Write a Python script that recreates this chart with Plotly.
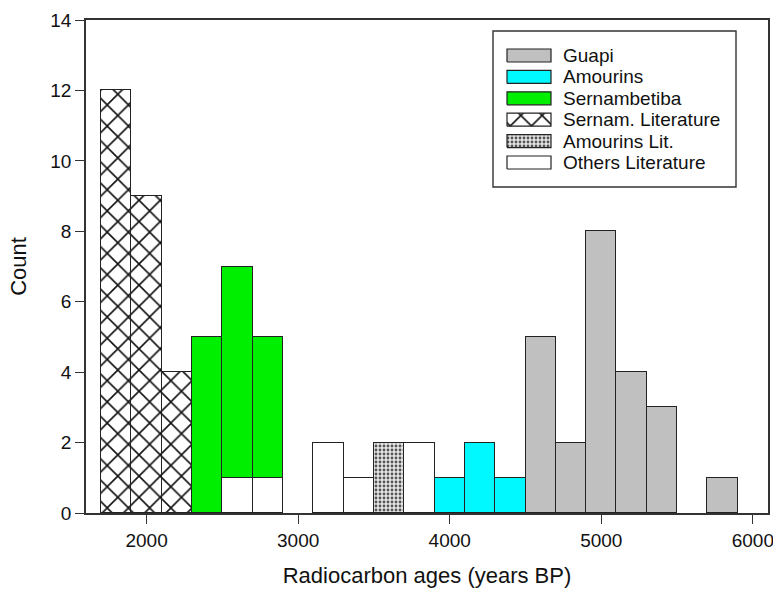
import plotly.graph_objects as go

# ---- data (bin centres in years BP, bin width 200) ----
bin_width = 200
sernam_lit_x = [1800, 2000, 2200]
sernam_lit_n = [12, 9, 4]
others_x = [2600, 2800, 3200, 3400, 3800]
others_n = [1, 1, 2, 1, 2]
sernambetiba_x = [2400, 2600, 2800]
sernambetiba_n = [5, 6, 4]
amourins_lit_x = [3600]
amourins_lit_n = [2]
amourins_x = [4000, 4200, 4400]
amourins_n = [1, 2, 1]
guapi_x = [4600, 4800, 5000, 5200, 5400, 5800]
guapi_n = [5, 2, 8, 4, 3, 1]

x_ticks = [2000, 3000, 4000, 5000, 6000]
y_ticks = [0, 2, 4, 6, 8, 10, 12, 14]

FONT = "Liberation Sans, Arial, sans-serif"
LINE = dict(color="#222", width=1.5)

styles = {
    "Guapi": dict(color="#c0c0c0"),
    "Amourins": dict(color="#00f8ff"),
    "Sernambetiba": dict(color="#00ee00"),
    "Sernam. Literature": dict(color="white",
                               pattern=dict(shape="x", size=15, solidity=0.2,
                                            fgcolor="#111", bgcolor="white", fillmode="replace")),
    "Amourins Lit.": dict(color="white",
                          pattern=dict(shape=".", size=4, solidity=0.4,
                                       fgcolor="#555", bgcolor="#e6e6e6", fillmode="replace")),
    "Others Literature": dict(color="white"),
}

series = [
    ("Others Literature", others_x, others_n),
    ("Sernam. Literature", sernam_lit_x, sernam_lit_n),
    ("Sernambetiba", sernambetiba_x, sernambetiba_n),
    ("Amourins Lit.", amourins_lit_x, amourins_lit_n),
    ("Amourins", amourins_x, amourins_n),
    ("Guapi", guapi_x, guapi_n),
]

fig = go.Figure()
for name, xs, ns in series:
    fig.add_trace(go.Bar(
        x=xs, y=ns, width=[bin_width] * len(xs), name=name,
        marker=dict(line=LINE, **styles[name]),
        showlegend=False,
    ))

# ---- custom legend (plot-area fractions) ----
L, R, T, B = 86, 768, 20, 513
def fx(px):
    return (px - L) / (R - L)
def fy(py):
    return (B - py) / (B - T)

legend_order = ["Guapi", "Amourins", "Sernambetiba", "Sernam. Literature",
                "Amourins Lit.", "Others Literature"]
fig.add_shape(type="rect", xref="paper", yref="paper",
              x0=fx(493), x1=fx(736), y0=fy(187), y1=fy(31),
              line=dict(color="#333", width=1.4), fillcolor="white", layer="below")
for i, name in enumerate(legend_order):
    cy = 55.5 + i * 21.4
    x0, x1 = fx(507), fx(551)
    y0, y1 = fy(cy + 6.5), fy(cy - 6.5)
    st = styles[name]
    kw = dict(fillcolor=st["color"])
    if "pattern" in st:
        kw = dict(fillpattern=st["pattern"], fillcolor="white")
    fig.add_trace(go.Scatter(
        x=[x0, x1, x1, x0, x0], y=[y0, y0, y1, y1, y0],
        xaxis="x2", yaxis="y2", mode="lines", fill="toself",
        line=dict(color="#222", width=1.2), showlegend=False, hoverinfo="skip", **kw))
    fig.add_annotation(x=fx(561), y=fy(cy), xref="paper", yref="paper",
                       text=name, showarrow=False, xanchor="left", yanchor="middle",
                       font=dict(size=19, color="#111", family=FONT))

fig.update_layout(
    width=773, height=593,
    margin=dict(l=L, r=773 - R, t=T, b=593 - B),
    paper_bgcolor="white", plot_bgcolor="white",
    barmode="stack", bargap=0,
    font=dict(family=FONT, color="#111"),
    xaxis=dict(range=[1600, 6100], tickvals=x_ticks, ticks="outside", ticklen=9,
               tickwidth=1.3, tickcolor="#333", showline=True, linecolor="#333",
               linewidth=1.5, mirror=True, showgrid=False, zeroline=False,
               tickfont=dict(size=19), automargin=False, ticklabeloverflow="allow",
               title=dict(text="Radiocarbon ages (years BP)", font=dict(size=22), standoff=18)),
    yaxis=dict(range=[0, 14], tickvals=y_ticks, ticks="outside", ticklen=9,
               tickwidth=1.3, tickcolor="#333", showline=True, linecolor="#333",
               linewidth=1.5, mirror=True, showgrid=False, zeroline=False,
               tickfont=dict(size=19), automargin=False, ticklabeloverflow="allow",
               title=dict(text="Count", font=dict(size=22), standoff=18)),
    xaxis2=dict(overlaying="x", range=[0, 1], visible=False, fixedrange=True),
    yaxis2=dict(overlaying="y", range=[0, 1], visible=False, fixedrange=True),
)

fig.write_html("out.html", config={"displayModeBar": False},
               post_script="document.body.style.margin='0';document.body.style.overflow='hidden';")
